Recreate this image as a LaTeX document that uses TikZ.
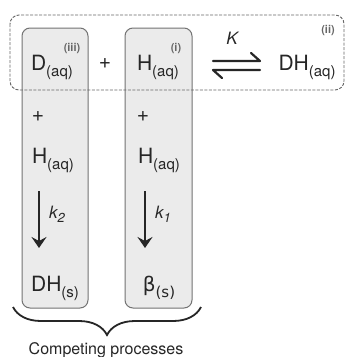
\documentclass[tikz,border=0pt]{standalone}
\usepackage{fontspec}
\setmainfont{TeX Gyre Heros}
\usetikzlibrary{arrows.meta,decorations.pathreplacing}
\tikzset{
  chem/.style={inner sep=0pt, font=\fontsize{21}{24}\selectfont, text=black!85},
  tag/.style={inner sep=0pt, font=\fontsize{11}{12}\selectfont\bfseries, text=black!60},
  rate/.style={inner sep=0pt, font=\fontsize{17}{20}\selectfont\itshape, text=black!85},
  colbox/.style={draw=black!55, fill=black!8, rounded corners=8pt, line width=1pt},
  dashbox/.style={draw=black!60, dashed, dash pattern=on 3pt off 1.5pt, rounded corners=9pt, line width=0.9pt},
  downarrow/.style={line width=2pt, black!85, -{Stealth[length=11pt,width=15pt,inset=4pt]}},
  harp/.style={line width=2.2pt, black!85}
}
\newcommand{\sub}[1]{\raisebox{-6pt}{\fontsize{15}{16}\selectfont #1}}
\begin{document}
\begin{tikzpicture}[x=1pt,y=-1pt]
\useasboundingbox (0,0) rectangle (345,357);
\fill[white] (0,0) rectangle (345,357);
% column boxes
\draw[colbox] (22,28) rectangle (88,308);
\draw[colbox] (125,28) rectangle (192,308);
% dashed box
\draw[dashbox] (10,15) rectangle (344,90);
% row 1
\node[chem, anchor=base] (d) at (52,70) {D\sub{(aq)}};
\node[tag] (t3) at (72,48) {(iii)};
\node[chem] (plus0) at (105,64) {+};
\node[chem, anchor=base] (h1) at (158,70) {H\sub{(aq)}};
\node[tag] (t1) at (176,48) {(i)};
\node[rate] (K) at (232,38) {K};
\node[chem, anchor=base] (dh) at (307,70) {DH\sub{(aq)}};
\node[tag] (t2) at (328,30) {(ii)};
% equilibrium harpoons
\coordinate (ha) at (213,61);
\coordinate (hb) at (260,61);
\coordinate (hc) at (251,53);
\coordinate (hd) at (260,70);
\coordinate (he) at (213,70);
\coordinate (hf) at (222,78);
\draw[harp, line cap=round, line join=round] (ha) -- (hb) -- (hc);
\draw[harp, line cap=round, line join=round] (hd) -- (he) -- (hf);
% left column
\node[chem] (pl) at (38,117) {+};
\node[chem, anchor=base] (hl) at (53,163) {H\sub{(aq)}};
\coordinate (al1) at (39,191);
\coordinate (al2) at (39,248);
\draw[downarrow] (al1) -- (al2);
\node[rate, anchor=base west] (k2) at (49,218) {k\raisebox{-4pt}{\fontsize{13}{14}\selectfont 2}};
\node[chem, anchor=base] (dhs) at (55,291) {DH\sub{(s)}};
% right column
\node[chem] (pr) at (143,117) {+};
\node[chem, anchor=base] (hr) at (159,163) {H\sub{(aq)}};
\coordinate (ar1) at (145,191);
\coordinate (ar2) at (145,248);
\draw[downarrow] (ar1) -- (ar2);
\node[rate, anchor=base west] (k1) at (155,218) {k\raisebox{-4pt}{\fontsize{13}{14}\selectfont 1}};
\node[chem, anchor=base] (beta) at (159,291) {\fontspec{DejaVu Sans}\fontsize{20}{22}\selectfont β\sub{(s)}};
% brace
\coordinate (b1) at (13,307);
\coordinate (b2) at (201,307);
\draw[decorate, decoration={brace, mirror, amplitude=28pt, aspect=0.5}, line width=1.8pt, black!85] (b1) -- (b2);
\node[inner sep=0pt, font=\fontsize{16}{18}\selectfont, text=black!85] (cp) at (106,350) {Competing processes};
\end{tikzpicture}
\end{document}
